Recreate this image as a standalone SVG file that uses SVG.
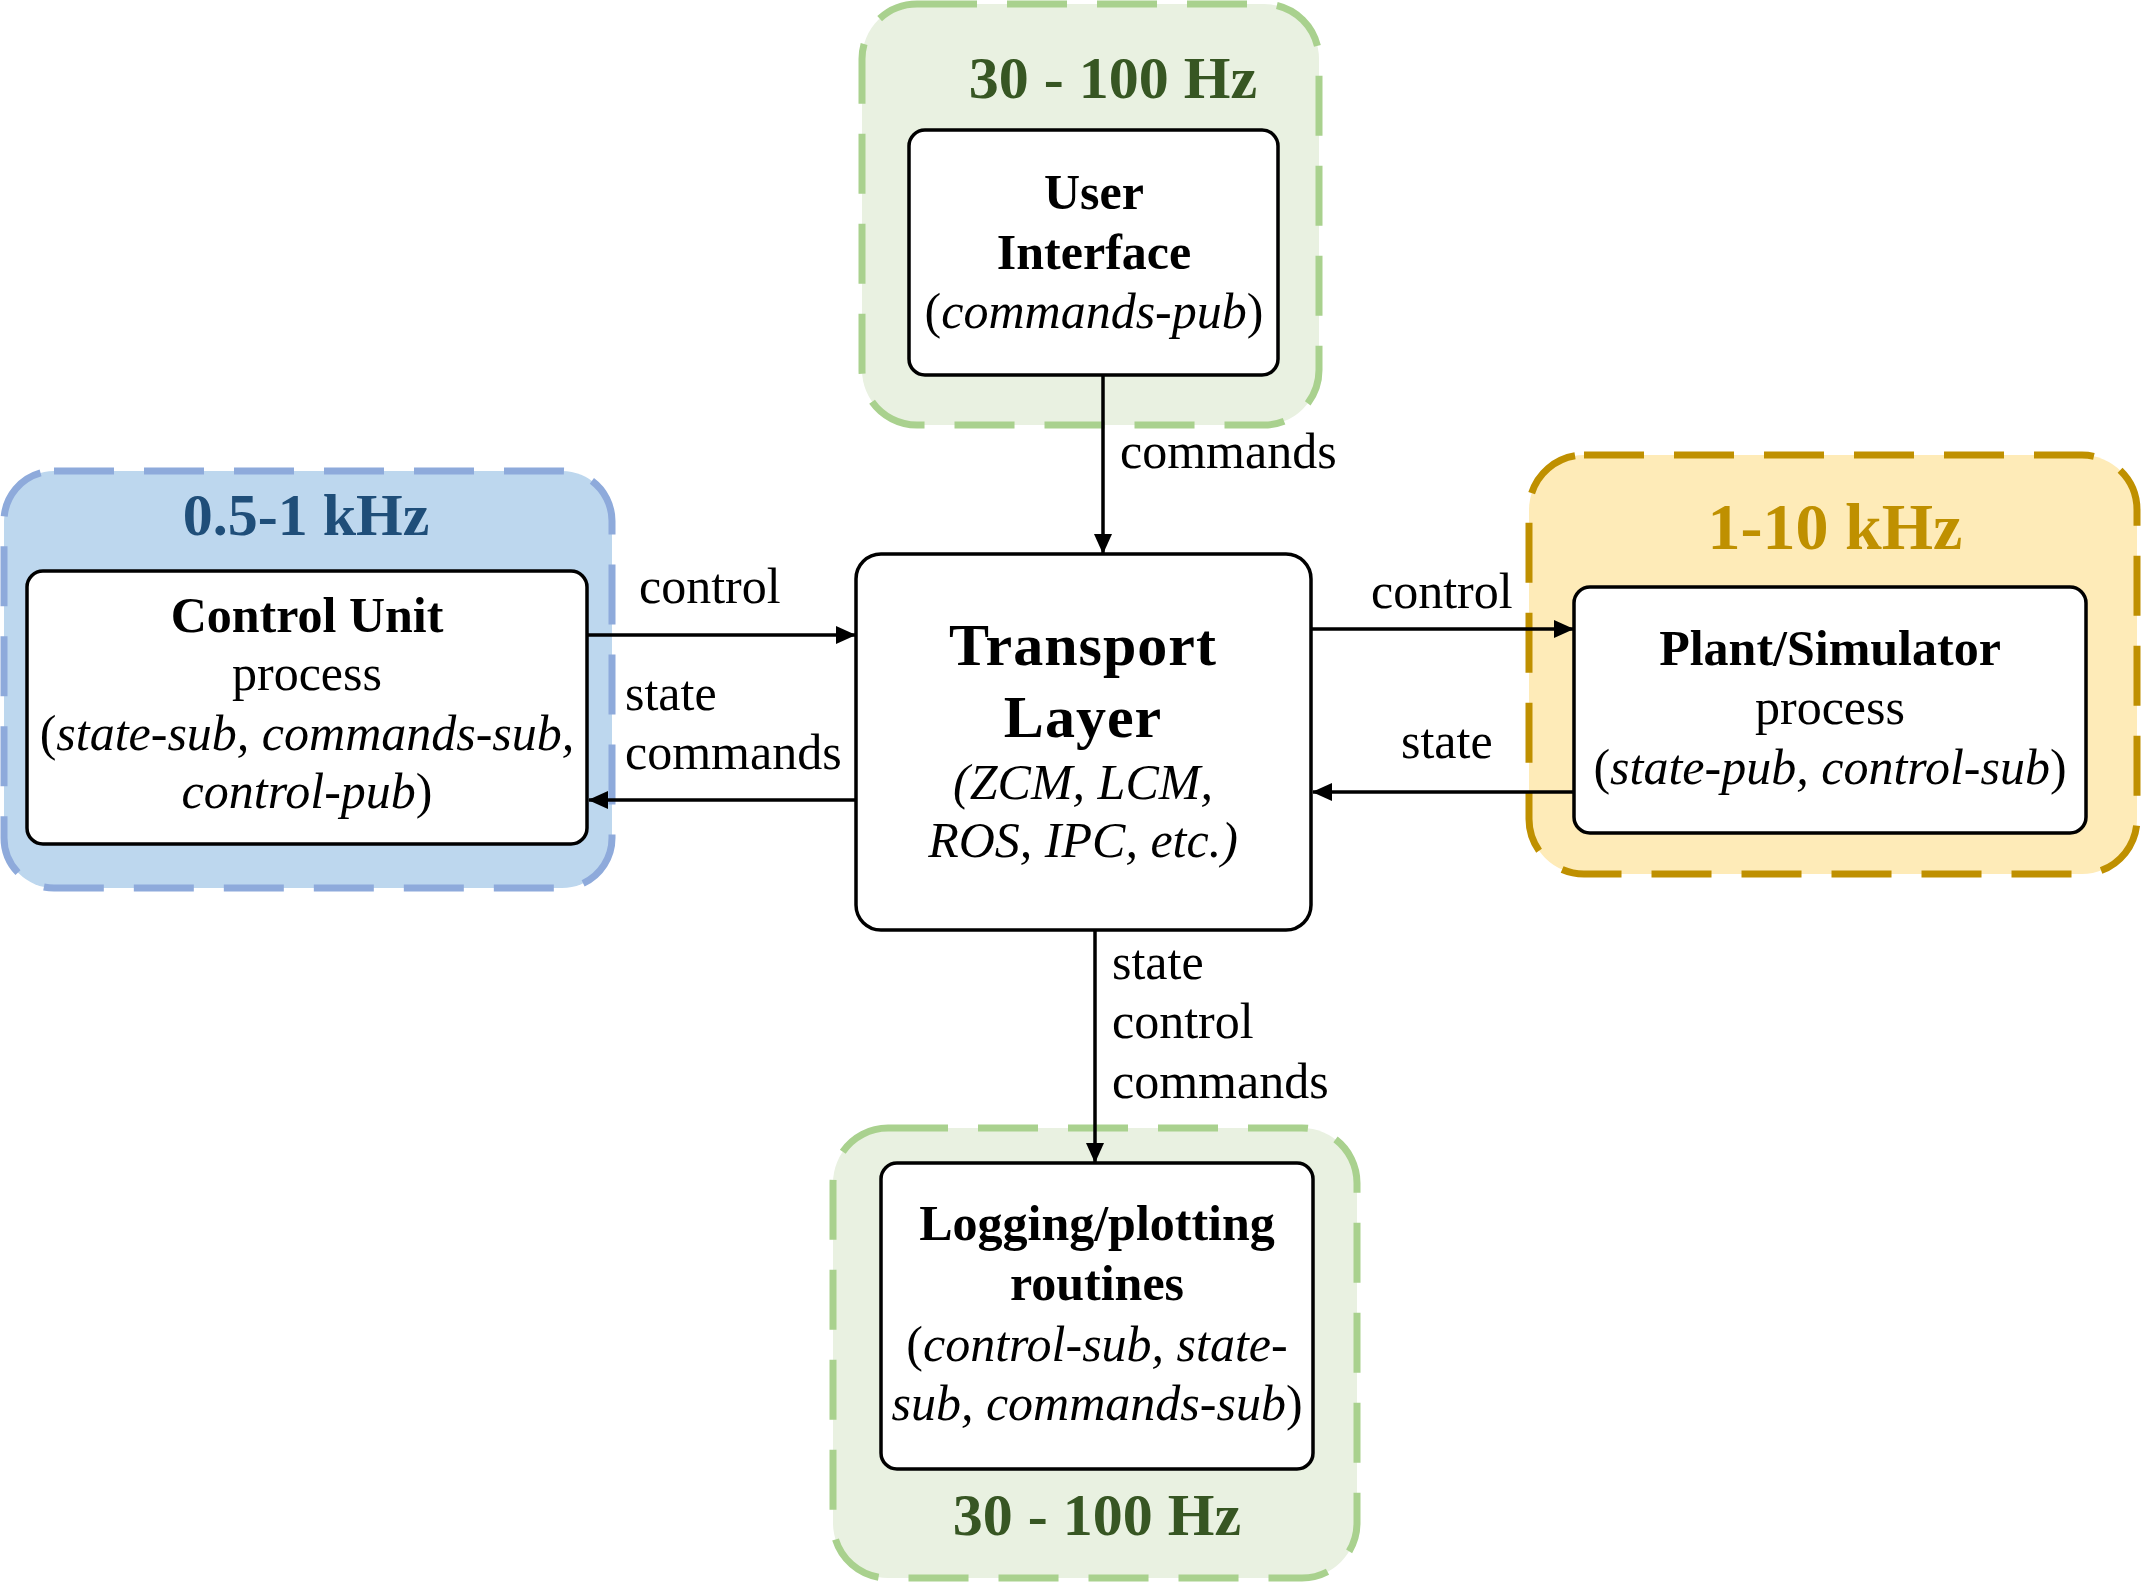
<svg xmlns="http://www.w3.org/2000/svg" width="2141" height="1583" viewBox="0 0 2141 1583">
<style>
text{font-family:"Liberation Serif","Times New Roman",serif;fill:#000}
.t{font-size:50px}
.b{font-weight:bold}
.i{font-style:italic}
.freq{font-size:60px;font-weight:bold}
.grp{stroke-width:7;stroke-dasharray:60 30}
.green{fill:#e9f1e1;stroke:#a9d18e}
.blue{fill:#bdd7ee;stroke:#8eaadb}
.yellow{fill:#feebb8;stroke:#bf9000}
.box{fill:#fff;stroke:#000;stroke-width:3.5}
.conn line{stroke:#000;stroke-width:3.5;marker-end:url(#ah)}
</style>
<defs>
<marker id="ah" markerUnits="userSpaceOnUse" markerWidth="20" markerHeight="18" refX="19" refY="9" orient="auto">
<path d="M0,0 L20,9 L0,18 Z" fill="#000"/>
</marker>
</defs>
<rect width="2141" height="1583" fill="#fff"/>

<g id="ui-group">
<rect class="grp green" x="862" y="4" width="457" height="421" rx="55"/>
<text class="freq" x="1113" y="98" text-anchor="middle" style="fill:#375623">30 - 100 Hz</text>
</g>
<g id="user-interface">
<rect class="box" x="909" y="130" width="369" height="245" rx="16"/>
<text class="t b" x="1094" y="209" text-anchor="middle">User</text>
<text class="t b" x="1094" y="269" text-anchor="middle">Interface</text>
<text class="t" x="1094" y="328" text-anchor="middle">(<tspan class="i">commands-pub</tspan>)</text>
</g>

<g id="control-group">
<rect class="grp blue" x="4" y="471" width="608" height="417" rx="50"/>
<text class="freq" x="306" y="535" text-anchor="middle" style="fill:#1f4e79">0.5-1 kHz</text>
</g>
<g id="control-unit">
<rect class="box" x="27" y="571" width="560" height="273" rx="16"/>
<text class="t b" x="307" y="632" text-anchor="middle">Control Unit</text>
<text class="t" x="307" y="690" text-anchor="middle">process</text>
<text class="t" x="307" y="750" text-anchor="middle">(<tspan class="i">state-sub, commands-sub,</tspan></text>
<text class="t" x="307" y="808" text-anchor="middle"><tspan class="i">control-pub</tspan>)</text>
</g>

<g id="plant-group">
<rect class="grp yellow" x="1529" y="455" width="608" height="419" rx="55"/>
<text class="freq" x="1835" y="549" text-anchor="middle" style="fill:#bf9000;font-size:66px">1-10 kHz</text>
</g>
<g id="plant-simulator">
<rect class="box" x="1574" y="587" width="512" height="246" rx="16"/>
<text class="t b" x="1830" y="665" text-anchor="middle">Plant/Simulator</text>
<text class="t" x="1830" y="724" text-anchor="middle">process</text>
<text class="t" x="1830" y="784" text-anchor="middle">(<tspan class="i">state-pub, control-sub</tspan>)</text>
</g>

<g id="logging-group">
<rect class="grp green" x="833" y="1128" width="524" height="450" rx="55"/>
<text class="freq" x="1097" y="1535" text-anchor="middle" style="fill:#375623">30 - 100 Hz</text>
</g>
<g id="logging">
<rect class="box" x="881" y="1163" width="432" height="306" rx="16"/>
<text class="t b" x="1097" y="1240" text-anchor="middle">Logging/plotting</text>
<text class="t b" x="1097" y="1300" text-anchor="middle">routines</text>
<text class="t" x="1097" y="1361" text-anchor="middle">(<tspan class="i">control-sub, state-</tspan></text>
<text class="t" x="1097" y="1420" text-anchor="middle"><tspan class="i">sub, commands-sub</tspan>)</text>
</g>

<g id="transport-layer">
<rect class="box" x="856" y="554" width="455" height="376" rx="25"/>
<text class="b" style="font-size:60px;letter-spacing:1px" x="1083" y="665" text-anchor="middle">Transport</text>
<text class="b" style="font-size:60px;letter-spacing:1px" x="1083" y="737" text-anchor="middle">Layer</text>
<text class="t i" x="1083" y="799" text-anchor="middle">(ZCM, LCM,</text>
<text class="t i" x="1083" y="857" text-anchor="middle">ROS, IPC, etc.)</text>
</g>

<g id="connectors" class="conn">
<line x1="1103" y1="375" x2="1103" y2="553"/>
<line x1="587" y1="635" x2="855" y2="635"/>
<line x1="856" y1="800" x2="589" y2="800"/>
<line x1="1311" y1="629" x2="1573" y2="629"/>
<line x1="1574" y1="792" x2="1313" y2="792"/>
<line x1="1095" y1="930" x2="1095" y2="1162"/>
</g>
<g id="connector-labels">
<text class="t" x="1120" y="468">commands</text>
<text class="t" x="639" y="603">control</text>
<text class="t" x="625" y="710">state</text>
<text class="t" x="625" y="769">commands</text>
<text class="t" x="1371" y="608">control</text>
<text class="t" x="1401" y="758">state</text>
<text class="t" x="1112" y="979">state</text>
<text class="t" x="1112" y="1038">control</text>
<text class="t" x="1112" y="1098">commands</text>
</g>
</svg>
